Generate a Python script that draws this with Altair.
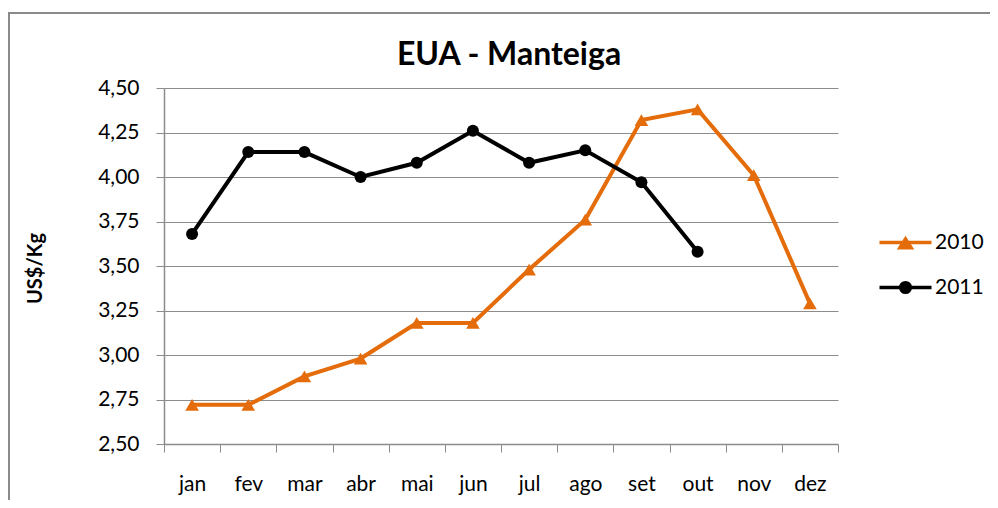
import altair as alt
import pandas as pd

meses = ["jan", "fev", "mar", "abr", "mai", "jun", "jul", "ago", "set", "out", "nov", "dez"]
series = ["2010", "2011"]
v2010 = [2.72, 2.72, 2.88, 2.98, 3.18, 3.18, 3.48, 3.76, 4.32, 4.38, 4.01, 3.29]
v2011 = [3.68, 4.14, 4.14, 4.00, 4.08, 4.26, 4.08, 4.15, 3.97, 3.58, None, None]
y_ticks = [2.50, 2.75, 3.00, 3.25, 3.50, 3.75, 4.00, 4.25, 4.50]
cores = ["#E46C0A", "#000000"]
titulo = "EUA - Manteiga"

rows = []
for m, a, b in zip(meses, v2010, v2011):
    rows.append({"mes": m, "serie": "2010", "valor": a})
    if b is not None:
        rows.append({"mes": m, "serie": "2011", "valor": b})
df = pd.DataFrame(rows)

FONT = "Lato"
GRID = "#8c8c8c"

x = alt.X(
    "mes:N",
    sort=meses,
    scale=alt.Scale(type="band", domain=meses, paddingInner=0, paddingOuter=0),
    axis=alt.Axis(
        title=None, labelAngle=0, tickBand="extent", domainColor=GRID, tickColor=GRID,
        tickSize=8, labelFont=FONT, labelFontSize=21, labelColor="black",
        labelBaseline="alphabetic", labelPadding=38, grid=False, domainWidth=1.5,
    ),
)
y = alt.Y(
    "valor:Q",
    scale=alt.Scale(domain=[2.5, 4.5], nice=False, zero=False),
    axis=alt.Axis(
        title="US$/Kg", values=y_ticks,
        labelExpr="replace(format(datum.value, '.2f'), '.', ',')",
        labelFont=FONT, labelFontSize=21, labelColor="black", labelPadding=17,
        tickSize=8, tickColor=GRID, domainColor=GRID, domainWidth=1.5,
        gridColor=GRID, gridWidth=1.2,
        titleFont=FONT, titleFontSize=20, titleFontWeight="bold", titleColor="black",
        titleX=-129, titleY=180, titleAlign="center", titleBaseline="middle", titleAngle=-90,
    ),
)

color_scale = alt.Scale(domain=series, range=cores)
one = pd.DataFrame({"t": [titulo]})

frame = alt.Chart(one).mark_rect(
    filled=False, stroke="#8a8a8a", strokeWidth=2
).encode(
    x=alt.value(-155), x2=alt.value(1000), y=alt.value(-75), y2=alt.value(700)
)

title_txt = alt.Chart(one).mark_text(
    font=FONT, fontSize=32, fontWeight="bold", color="black",
    align="center", baseline="alphabetic"
).encode(x=alt.value(345), y=alt.value(-23), text="t:N")

lines = alt.Chart(df).mark_line(strokeWidth=4).encode(
    x=x, y=y,
    color=alt.Color("serie:N", scale=color_scale, legend=None),
    detail="serie:N",
)

pts2010 = alt.Chart(df).transform_filter(alt.datum.serie == "2010").mark_point(
    filled=True, shape="triangle-up", size=185, opacity=1
).encode(x=x, y=y, color=alt.Color("serie:N", scale=color_scale, legend=None))

pts2011 = alt.Chart(df).transform_filter(alt.datum.serie == "2011").mark_point(
    filled=True, shape="circle", size=145, opacity=1
).encode(x=x, y=y, color=alt.Color("serie:N", scale=color_scale, legend=None))

tri_path = "M-3.25,0L3.25,0M0,-0.45L0.7,0.65L-0.7,0.65Z"
circ_path = "M-3.25,0L3.25,0M-0.6,0A0.6,0.6,0,1,1,0.6,0A0.6,0.6,0,1,1,-0.6,0Z"

leg = alt.Chart(df).transform_filter("false").mark_point(
    filled=True, strokeWidth=3.5, opacity=1, size=256
).encode(
    x=x, y=y,
    fill=alt.Fill("serie:N", scale=alt.Scale(domain=series, range=cores),
                  legend=alt.Legend(
                      title=None, orient="none", legendX=731, legendY=144,
                      labelFont=FONT, labelFontSize=21, labelColor="black",
                      symbolSize=256, symbolStrokeWidth=3.5, labelOffset=19,
                      rowPadding=20, symbolOpacity=1)),
    stroke=alt.Stroke("serie:N", scale=alt.Scale(domain=series, range=cores)),
    shape=alt.Shape("serie:N", scale=alt.Scale(domain=series, range=[tri_path, circ_path])),
)

chart = alt.layer(frame, title_txt, lines, pts2010, pts2011, leg).resolve_scale(
    color="independent", fill="independent", stroke="independent", shape="independent"
).properties(
    width=674, height=356,
    autosize=alt.AutoSizeParams(type="none"),
    padding={"left": 156, "top": 80, "right": 152, "bottom": 56},
).configure_view(stroke=None)

chart.save("out.html", embed_options={"renderer": "svg", "actions": False})
